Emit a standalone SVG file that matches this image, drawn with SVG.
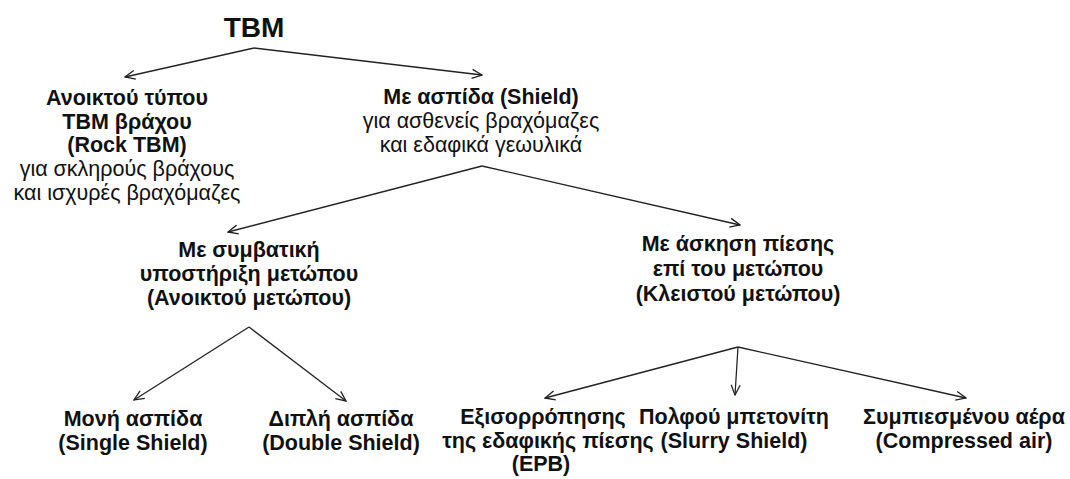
<svg xmlns="http://www.w3.org/2000/svg" width="1070" height="479" viewBox="0 0 1070 479">
<style>
text{font-family:"Liberation Sans",Arial,"Noto Sans",sans-serif;font-size:21.5px;fill:#111;text-anchor:middle}
.b{font-weight:bold}
.t{font-size:28px;font-weight:bold}
.c{fill:none;stroke:#222;stroke-width:1.3}
</style>
<defs>
<marker id="ah" viewBox="0 0 12 12" refX="11" refY="6" markerWidth="12" markerHeight="12" markerUnits="userSpaceOnUse" orient="auto">
<path d="M1,1.5 L11,6 L1,10.5" fill="none" stroke="#222" stroke-width="1.3"/>
</marker>
</defs>
<rect width="1070" height="479" fill="#fff"/>
<g id="connectors">
<path class="c" d="M254,48 L125,77" marker-end="url(#ah)"/>
<path class="c" d="M254,48 L482,75" marker-end="url(#ah)"/>
<path class="c" d="M482,166 L228,232" marker-end="url(#ah)"/>
<path class="c" d="M482,166 L740,225" marker-end="url(#ah)"/>
<path class="c" d="M249,327 L134,400" marker-end="url(#ah)"/>
<path class="c" d="M249,327 L346,401" marker-end="url(#ah)"/>
<path class="c" d="M738,347 L545,398" marker-end="url(#ah)"/>
<path class="c" d="M738,347 L735,395" marker-end="url(#ah)"/>
<path class="c" d="M738,347 L966,398" marker-end="url(#ah)"/>
</g>
<g id="tbm"><text class="t" x="254" y="37">TBM</text></g>
<g id="rock">
<text class="b" x="127" y="105">Ανοικτού τύπου</text>
<text class="b" x="127" y="129">TBM βράχου</text>
<text class="b" x="127" y="152">(Rock TBM)</text>
<text x="127" y="176">για σκληρούς βράχους</text>
<text x="127" y="200">και ισχυρές βραχόμαζες</text>
</g>
<g id="shield">
<text class="b" x="481" y="104">Με ασπίδα (Shield)</text>
<text x="481" y="128">για ασθενείς βραχόμαζες</text>
<text x="481" y="152">και εδαφικά γεωυλικά</text>
</g>
<g id="open-face">
<text class="b" x="249" y="257">Με συμβατική</text>
<text class="b" x="249" y="281">υποστήριξη μετώπου</text>
<text class="b" x="249" y="305">(Ανοικτού μετώπου)</text>
</g>
<g id="closed-face">
<text class="b" x="738" y="251">Με άσκηση πίεσης</text>
<text class="b" x="738" y="276">επί του μετώπου</text>
<text class="b" x="738" y="301">(Κλειστού μετώπου)</text>
</g>
<g id="single">
<text class="b" x="133" y="426">Μονή ασπίδα</text>
<text class="b" x="133" y="450">(Single Shield)</text>
</g>
<g id="double">
<text class="b" x="341" y="426">Διπλή ασπίδα</text>
<text class="b" x="341" y="450">(Double Shield)</text>
</g>
<g id="epb">
<text class="b" x="543" y="424">Εξισορρόπησης</text>
<text class="b" x="548" y="448">της εδαφικής πίεσης</text>
<text class="b" x="541" y="471">(EPB)</text>
</g>
<g id="slurry">
<text class="b" x="734" y="424">Πολφού μπετονίτη</text>
<text class="b" x="734" y="448">(Slurry Shield)</text>
</g>
<g id="air">
<text class="b" x="964" y="424">Συμπιεσμένου αέρα</text>
<text class="b" x="964" y="448">(Compressed air)</text>
</g>
</svg>
